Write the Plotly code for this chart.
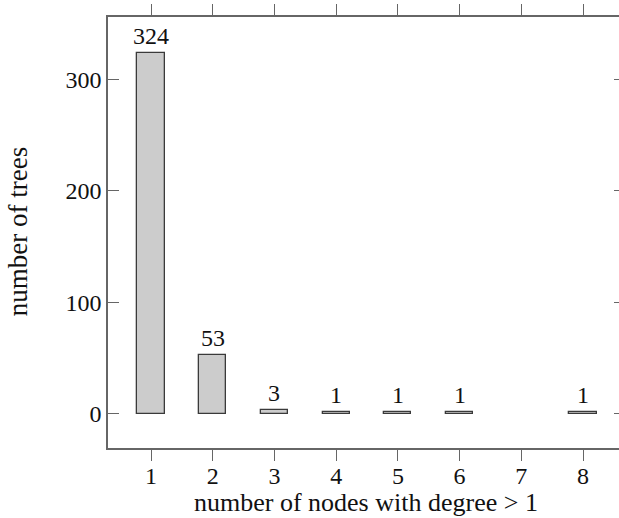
import plotly.graph_objects as go

# Data
nodes = [1, 2, 3, 4, 5, 6, 8]
trees = [324, 53, 3, 1, 1, 1, 1]
x_ticks = [1, 2, 3, 4, 5, 6, 7, 8]
y_ticks = [0, 100, 200, 300]
x_title = "number of nodes with degree > 1"
y_title = "number of trees"

FONT = "Liberation Serif"
AX = "#666666"

fig = go.Figure()
fig.add_trace(go.Bar(
    x=nodes, y=trees, width=0.44,
    marker=dict(color="#cccccc", line=dict(color="#3a3a3a", width=1.3)),
    showlegend=False, hoverinfo="skip",
))
# invisible trace to anchor the right-hand tick axis
fig.add_trace(go.Scatter(x=[nodes[0]], y=[trees[0]], yaxis="y2", mode="markers",
                         marker=dict(opacity=0), showlegend=False, hoverinfo="skip"))

for xv, yv in zip(nodes, trees):
    fig.add_annotation(x=xv, y=yv, text=str(yv), showarrow=False,
                       yanchor="bottom", xanchor="center", yshift=2,
                       font=dict(family=FONT, size=24, color="#111111"))

yr = [-30.9, 356.1]
fig.update_layout(
    width=619, height=518,
    margin=dict(l=108, r=0, t=17, b=70, autoexpand=False),
    plot_bgcolor="white", paper_bgcolor="white",
    font=dict(family=FONT, size=24, color="#111111"),
    xaxis=dict(range=[0.303, 8.583], tickvals=x_ticks, ticktext=[str(v) for v in x_ticks],
               showline=True, linecolor=AX, linewidth=1.5, mirror="ticks",
               ticks="outside", ticklen=11, tickwidth=1.2, tickcolor=AX,
               showgrid=False, zeroline=False, ticklabelstandoff=-6, automargin=False,
               tickfont=dict(family=FONT, size=24, color="#111111")),
    yaxis=dict(range=yr, tickvals=y_ticks, showline=True, linecolor=AX, linewidth=1.5,
               ticks="inside", ticklen=11, tickwidth=1.2, tickcolor=AX,
               showgrid=False, zeroline=False, ticklabelstandoff=0, automargin=False,
               tickfont=dict(family=FONT, size=24, color="#111111")),
    yaxis2=dict(range=yr, tickvals=y_ticks, overlaying="y", side="right",
                showline=False, ticks="inside", ticklen=5, tickwidth=1.2, tickcolor=AX,
                showticklabels=False, showgrid=False, zeroline=False, automargin=False),
    bargap=0,
)

fig.add_annotation(text=x_title, xref="paper", yref="paper", x=0.505, y=-0.126,
                   xanchor="center", yanchor="middle", showarrow=False,
                   font=dict(family=FONT, size=26, color="#111111"))
fig.add_annotation(text=y_title, xref="paper", yref="paper", x=-0.176, y=0.501,
                   xanchor="center", yanchor="middle", showarrow=False, textangle=-90,
                   font=dict(family=FONT, size=27, color="#111111"))

fig.write_html("out.html", config={"displayModeBar": False},
               post_script="document.body.style.margin='0';document.body.style.overflow='hidden';")
